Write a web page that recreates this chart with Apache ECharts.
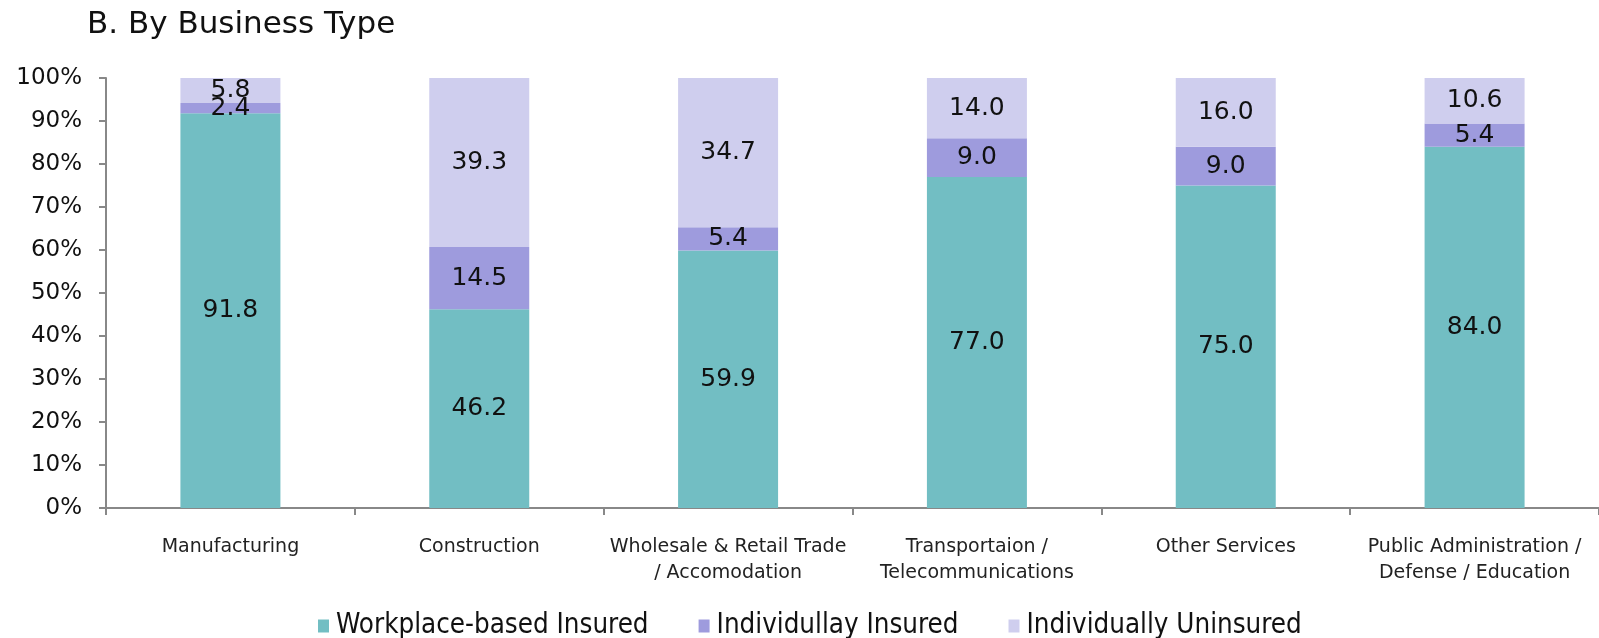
<!DOCTYPE html>
<html>
<head>
<meta charset="utf-8">
<script src="https://cdn.jsdelivr.net/npm/echarts@6/dist/echarts.min.js"></script>
<style>
html,body{margin:0;padding:0;background:#fff;}
#c{width:1599px;height:638px;}
</style>
</head>
<body>
<div id="c"></div>
<script>
const categories = ["Manufacturing", "Construction", "Wholesale & Retail Trade\n/ Accomodation", "Transportaion /\nTelecommunications", "Other Services", "Public Administration /\nDefense / Education"];
const seriesNames = ["Workplace-based Insured", "Individullay Insured", "Individually Uninsured"];
const workplaceInsured = [91.8, 46.2, 59.9, 77.0, 75.0, 84.0];
const individuallyInsured = [2.4, 14.5, 5.4, 9.0, 9.0, 5.4];
const individuallyUninsured = [5.8, 39.3, 34.7, 14.0, 16.0, 10.6];
const colors = ["#72BEC3", "#9E9BDD", "#CFCEEE"];

const chart = echarts.init(document.getElementById('c'), null, {renderer: 'canvas'});
const numFont = "'DejaVu Sans', sans-serif";
function mk(name, data, color) {
  return {
    name: name, type: 'bar', stack: 'total', data: data, barWidth: 100,
    itemStyle: {color: color},
    label: {show: true, position: 'inside', color: '#111', fontSize: 25, fontFamily: numFont,
      offset: [0, 2],
      formatter: p => p.value.toFixed(1)},
    labelLayout: {hideOverlap: false}
  };
}
chart.setOption({
  animation: false,
  backgroundColor: '#fff',
  title: {text: 'B. By Business Type', left: 82, top: 4,
    textStyle: {fontSize: 31, fontWeight: 'normal', color: '#111', fontFamily: numFont}},
  grid: {left: 106, top: 78, width: 1500, height: 430},
  legend: {
    top: 607, left: 313, itemGap: 50, itemWidth: 11, itemHeight: 13,
    icon: 'rect',
    textStyle: {fontSize: 27.5, color: '#111', fontFamily: "'Liberation Sans Narrow', 'DejaVu Sans Condensed', sans-serif", padding: [0,0,0,2]},
    data: seriesNames
  },
  xAxis: {
    type: 'category', data: categories,
    axisLine: {lineStyle: {color: '#888', width: 2}},
    axisTick: {show: true, length: 7, lineStyle: {color: '#888', width: 2}},
    axisLabel: {fontSize: 19, color: '#222', margin: 26, lineHeight: 26, interval: 0, fontFamily: "'DejaVu Sans', sans-serif"}
  },
  yAxis: {
    type: 'value', min: 0, max: 100, interval: 10,
    axisLine: {show: true, lineStyle: {color: '#888', width: 2}},
    axisTick: {show: true, length: 7, lineStyle: {color: '#888', width: 2}},
    splitLine: {show: false},
    axisLabel: {fontSize: 23, color: '#111', margin: 24, fontFamily: numFont, formatter: v => v + '%'}
  },
  series: [
    mk(seriesNames[0], workplaceInsured, colors[0]),
    mk(seriesNames[1], individuallyInsured, colors[1]),
    mk(seriesNames[2], individuallyUninsured, colors[2])
  ]
});
</script>
</body>
</html>
